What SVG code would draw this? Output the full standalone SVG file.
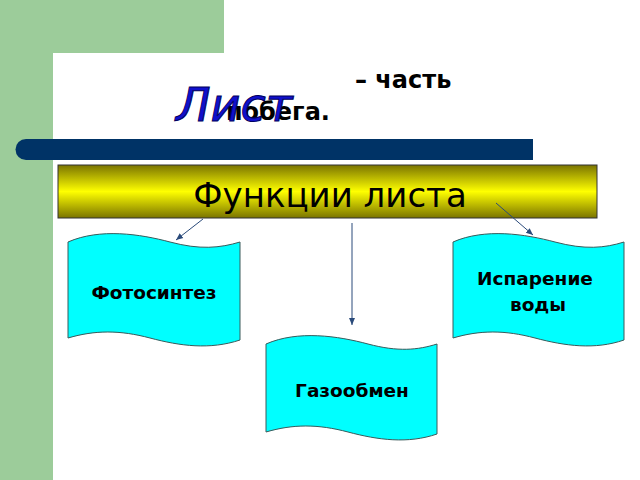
<svg xmlns="http://www.w3.org/2000/svg" width="640" height="480" viewBox="0 0 640 480">
<defs>
<linearGradient id="yg" x1="0" y1="0" x2="0" y2="1">
<stop offset="0" stop-color="#7a7400"/><stop offset="0.5" stop-color="#ffff00"/><stop offset="1" stop-color="#7a7400"/>
</linearGradient>
<marker id="ah" markerWidth="8" markerHeight="8" refX="7" refY="4" orient="auto" markerUnits="userSpaceOnUse">
<path d="M0,1 L7,4 L0,7 z" fill="#2a4a7a"/>
</marker>
<style>
.flag{fill:#00ffff;stroke:#3a5a5a;stroke-width:1}
.lbl{font-family:"DejaVu Sans",sans-serif;font-weight:bold;font-size:18.5px;fill:#000;text-anchor:middle}
.con{stroke:#2a4a7a;stroke-width:1;fill:none;marker-end:url(#ah)}
</style>
</defs>
<rect width="640" height="480" fill="#ffffff"/>
<rect x="0" y="0" width="224" height="53" fill="#9ccc9a"/>
<rect x="0" y="0" width="53" height="480" fill="#9ccc9a"/>
<path d="M53,480 V75 Q53,53 75,53 H224 V480 Z" fill="#ffffff"/>
<path d="M26,139 H533 V160 H26 A10.5,10.5 0 0 1 26,139 Z" fill="#003366"/>
<text x="355" y="88" font-family="DejaVu Sans,sans-serif" font-weight="bold" font-size="24">– часть</text>
<text x="226" y="120" font-family="DejaVu Sans,sans-serif" font-weight="bold" font-size="24">побега.</text>
<text x="176" y="121" font-family="DejaVu Sans,sans-serif" font-style="italic" font-size="46" fill="#1010cc" stroke="#000060" stroke-width="1">Лист</text>
<g id="title">
<rect x="58" y="165" width="539" height="53" fill="url(#yg)" stroke="#333" stroke-width="1"/>
<text x="330" y="207" font-family="DejaVu Sans,sans-serif" font-size="34" text-anchor="middle">Функции листа</text>
</g>
<g id="connectors">
<line class="con" x1="203" y1="219" x2="176" y2="240"/>
<line class="con" x1="352" y1="223" x2="352" y2="325"/>
<line class="con" x1="496" y1="203" x2="533" y2="235"/>
</g>
<g id="n1">
<path class="flag" d="M68,242 C100,228 140,234 170,242 C200,250 220,248 240,242 V340 C210,350 180,346 150,338 C120,330 95,330 68,338 Z"/>
<text class="lbl" x="154" y="299">Фотосинтез</text>
</g>
<g id="n2">
<path class="flag" d="M453,242 C485,228 525,234 555,242 C585,250 605,248 624,242 V340 C595,350 565,346 535,338 C505,330 480,330 453,338 Z"/>
<text class="lbl" x="535" y="285">Испарение</text>
<text class="lbl" x="538" y="311">воды</text>
</g>
<g id="n3">
<path class="flag" d="M266,344 C298,330 338,336 368,344 C398,352 418,350 437,344 V434 C408,444 378,440 348,432 C318,424 293,424 266,432 Z"/>
<text class="lbl" x="352" y="397">Газообмен</text>
</g>
</svg>
